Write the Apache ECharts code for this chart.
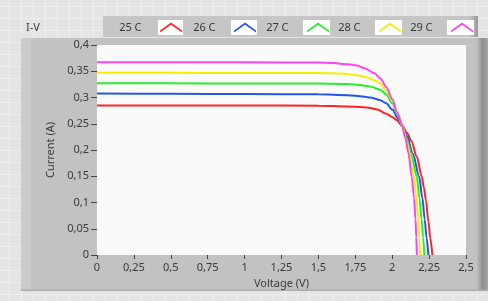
<!DOCTYPE html>
<html><head><meta charset="utf-8">
<script src="https://cdn.jsdelivr.net/npm/echarts@6/dist/echarts.min.js"></script>
<style>
html,body{margin:0;padding:0;}
body{width:488px;height:301px;background-color:#e4e4e4;
background-image:linear-gradient(to right,#eeeeee 1px,transparent 1px),linear-gradient(to bottom,#eeeeee 1px,transparent 1px);
background-size:12px 12px;background-position:9px 6px;overflow:hidden;}
#c{width:488px;height:301px;}
</style></head><body><div id="c"></div>
<script>
// ---- data ----
const seriesNames = ['25 C', '26 C', '27 C', '28 C', '29 C'];
const xTicks = [0, 0.25, 0.5, 0.75, 1, 1.25, 1.5, 1.75, 2, 2.25, 2.5];
const yTicks = [0, 0.05, 0.1, 0.15, 0.2, 0.25, 0.3, 0.35, 0.4];
const curve25 = [[0,0.285],[0.5,0.285],[1.0,0.285],[1.5,0.2845],[1.7,0.283],[1.8,0.2815],[1.85,0.280],[1.9,0.277],[1.96,0.269],[2.0,0.263],[2.03,0.257],[2.07,0.245],[2.1,0.233],[2.13,0.217],[2.166,0.188],[2.2,0.150],[2.215,0.128],[2.229,0.104],[2.245,0.064],[2.258,0.032],[2.272,0.0]];
const curve26 = [[0,0.3075],[0.5,0.307],[1.0,0.3065],[1.5,0.306],[1.7,0.3045],[1.8,0.302],[1.85,0.300],[1.92,0.295],[1.96,0.289],[2.0,0.277],[2.04,0.260],[2.07,0.245],[2.1,0.226],[2.14,0.193],[2.182,0.150],[2.205,0.108],[2.22,0.068],[2.233,0.033],[2.245,0.0]];
const curve27 = [[0,0.327],[0.5,0.327],[1.0,0.3265],[1.5,0.3265],[1.7,0.3255],[1.78,0.324],[1.85,0.321],[1.92,0.315],[1.96,0.306],[2.0,0.289],[2.04,0.265],[2.07,0.245],[2.1,0.220],[2.13,0.190],[2.166,0.150],[2.185,0.108],[2.199,0.068],[2.209,0.034],[2.218,0.0]];
const curve28 = [[0,0.347],[0.5,0.347],[1.0,0.3468],[1.5,0.3465],[1.65,0.3455],[1.75,0.343],[1.82,0.339],[1.88,0.333],[1.92,0.326],[1.96,0.314],[2.0,0.295],[2.04,0.268],[2.07,0.245],[2.1,0.214],[2.148,0.150],[2.165,0.108],[2.176,0.068],[2.183,0.034],[2.189,0.0]];
const curve29 = [[0,0.367],[0.5,0.367],[1.0,0.367],[1.5,0.3668],[1.6,0.3655],[1.7,0.3635],[1.76,0.361],[1.82,0.355],[1.88,0.346],[1.92,0.336],[1.96,0.320],[2.0,0.297],[2.035,0.271],[2.064,0.250],[2.09,0.222],[2.11,0.194],[2.132,0.150],[2.148,0.108],[2.158,0.068],[2.163,0.034],[2.167,0.0]];
const curves = [curve25, curve26, curve27, curve28, curve29];

// ---- styles / layout ----
const colors = ['#ff2424', '#2456e6', '#26f026', '#f2f000', '#ff44ee'];
const swatchBoxes = [[158,20,25,15],[231,20,26,15],[303,20,27,15],[375,20,27,15],[447,20,27,15]];
const fmt = v => String(Number(v.toFixed(2))).replace('.', ',');
const FONT = '"Noto Sans", "Open Sans", sans-serif';
const chevron = 'path://M0,8.5 L11.5,0 L23,8.5 L23,10.5 L11.5,2.4 L0,10.5 Z';

const chart = echarts.init(document.getElementById('c'), null, {renderer: 'canvas'});

const graphics = [
  {type:'rect', z:0, shape:{x:21,y:38,width:467,height:253}, style:{fill:'#c2c2c2'}},
  {type:'rect', z:0, shape:{x:21,y:38,width:10,height:253}, style:{fill:'#cbcbcb'}},
  {type:'rect', z:0, shape:{x:477,y:38,width:11,height:253}, style:{fill:new echarts.graphic.LinearGradient(0,0,1,0,[{offset:0,color:'#bdbdbd'},{offset:0.5,color:'#8f8f8f'},{offset:1,color:'#a6a6a6'}])}},
  {type:'rect', z:0, shape:{x:21,y:289.5,width:467,height:1.5}, style:{fill:'#acacac'}},
  {type:'rect', z:0, shape:{x:103,y:16,width:373,height:21}, style:{fill:'#c6c6c6'}},
  {type:'rect', z:0, shape:{x:470,y:16,width:8,height:21}, style:{fill:new echarts.graphic.LinearGradient(0,0,1,0,[{offset:0,color:'#c0c0c0'},{offset:1,color:'#9a9a9a'}])}},
  {type:'text', z:1, style:{x:26, y:28, text:'I-V', fill:'#3a3a3a', font:'11px ' + FONT, verticalAlign:'middle'}}
];
swatchBoxes.forEach(b => graphics.push({type:'rect', z:1, shape:{x:b[0],y:b[1],width:b[2],height:b[3]}, style:{fill:'#ffffff'}}));

const legends = seriesNames.map((n, k) => ({
  data: [n], right: 488 - (swatchBoxes[k][0] + swatchBoxes[k][2] - 1), top: 22,
  align: 'right', padding: 0, itemWidth: 23, itemHeight: 10, icon: chevron,
  selectedMode: false, z: 5,
  textStyle: {fontSize: 11, color: '#3a3a3a', fontFamily: FONT, padding: [0, 13, 0, 0]}
}));

chart.setOption({
  animation: false,
  graphic: graphics,
  legend: legends,
  grid: {left: 97, top: 45, width: 369, height: 210, show: true, backgroundColor: '#fafafa', borderWidth: 0, z: 2},
  xAxis: {
    type: 'value', min: xTicks[0], max: xTicks[xTicks.length - 1], interval: xTicks[1] - xTicks[0],
    name: 'Voltage (V)', nameLocation: 'middle', nameGap: 22,
    nameTextStyle: {fontSize: 11, color: '#3a3a3a', fontFamily: FONT},
    axisLine: {show: false},
    axisTick: {show: true, length: 4, lineStyle: {color: '#444'}},
    axisLabel: {fontSize: 11, color: '#3a3a3a', fontFamily: FONT, margin: 7, formatter: fmt},
    splitLine: {show: true, showMinLine: false, showMaxLine: false, lineStyle: {color: '#c4c4c4', width: 1.5}}
  },
  yAxis: {
    type: 'value', min: yTicks[0], max: yTicks[yTicks.length - 1], interval: yTicks[1] - yTicks[0],
    name: 'Current (A)', nameLocation: 'middle', nameGap: 29,
    nameTextStyle: {fontSize: 11, color: '#3a3a3a', fontFamily: FONT},
    axisLine: {show: true, lineStyle: {color: '#a0a0a0', width: 1}},
    axisTick: {show: true, length: 6, lineStyle: {color: '#444'}},
    axisLabel: {fontSize: 11, color: '#3a3a3a', fontFamily: FONT, margin: 8, formatter: fmt},
    splitLine: {show: true, showMinLine: false, showMaxLine: false, lineStyle: {color: '#bcb566', width: 1.5}}
  },
  series: seriesNames.map((n, k) => ({
    name: n, type: 'line', data: curves[k], symbol: 'none', showSymbol: false,
    smooth: 0.3, smoothMonotone: 'x', color: colors[k],
    lineStyle: {width: 2, color: colors[k]}, z: 3
  }))
});
</script></body></html>
